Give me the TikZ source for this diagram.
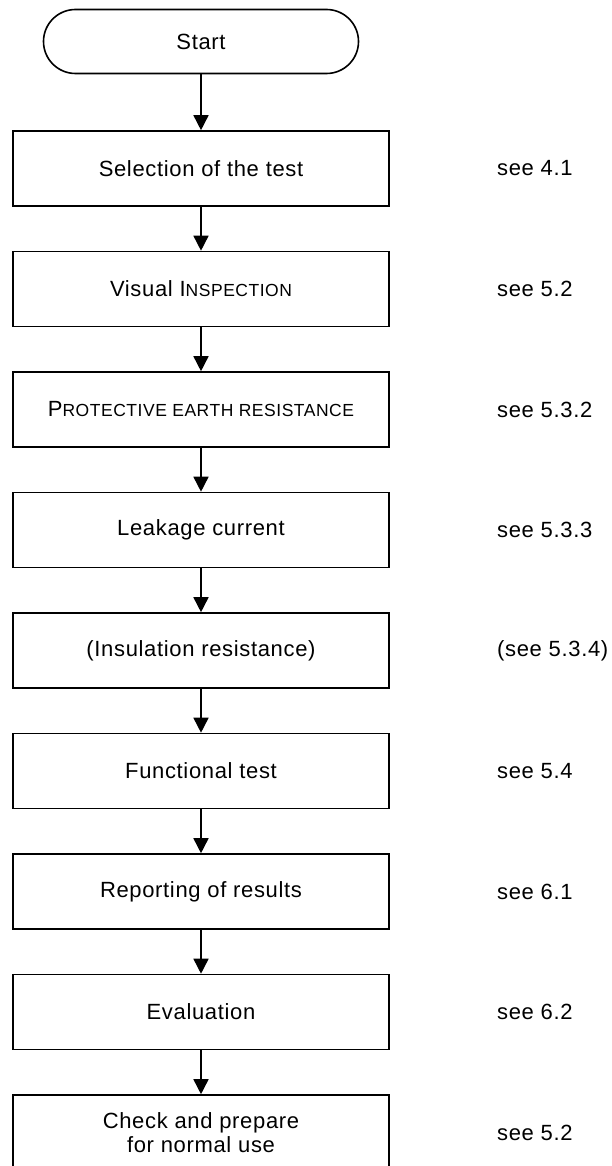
\documentclass[tikz,border=0pt]{standalone}
\usepackage{fontspec}
\setmainfont{Liberation Sans}[LetterSpace=3]
\usetikzlibrary{arrows.meta}

% faked small capitals: upper-case letters at a reduced size
\newcommand{\smcaps}[1]{{\fontsize{17.5}{21}\selectfont #1}}

\tikzset{
  flowline/.style={line width=1.6pt},
  stepbox/.style={draw, flowline, minimum width=376pt, minimum height=75pt,
    inner sep=0pt, align=center, font=\fontsize{22}{24}\selectfont},
  terminal/.style={draw, flowline, rounded corners=32pt, minimum width=315pt,
    minimum height=64pt, inner sep=0pt, font=\fontsize{22}{24}\selectfont},
  reflabel/.style={anchor=west, inner sep=0pt, font=\fontsize{22}{24}\selectfont},
  arrow/.style={flowline, -{Triangle[width=15pt,length=15pt]}}
}

\begin{document}
\begin{tikzpicture}[x=1pt, y=-1pt]
  \useasboundingbox (0,0) rectangle (612,1166);

  % start terminal
  \node[terminal] (start) at (201,41.5) {Start};

  % process steps
  \node[stepbox] (s1) at (201,168.5) {Selection of the test};
  \node[stepbox] (s2) at (201,289)   {Visual I\smcaps{NSPECTION}};
  \node[stepbox] (s3) at (201,409.5) {P\smcaps{ROTECTIVE EARTH RESISTANCE}};
  \node[stepbox] (s4) at (201,530)   {Leakage current};
  \node[stepbox] (s5) at (201,650.5) {(Insulation resistance)};
  \node[stepbox] (s6) at (201,771)   {Functional test};
  \node[stepbox] (s7) at (201,891.5) {Reporting of results};
  \node[stepbox] (s8) at (201,1012)  {Evaluation};
  \node[stepbox] (s9) at (201,1132.5) {Check and prepare\\for normal use};

  % clause references
  \node[reflabel] (r1) at (497,168.5) {see 4.1};
  \node[reflabel] (r2) at (497,289)   {see 5.2};
  \node[reflabel] (r3) at (497,409.5) {see 5.3.2};
  \node[reflabel] (r4) at (497,530)   {see 5.3.3};
  \node[reflabel] (r5) at (497,650.5) {(see 5.3.4)};
  \node[reflabel] (r6) at (497,771)   {see 5.4};
  \node[reflabel] (r7) at (497,891.5) {see 6.1};
  \node[reflabel] (r8) at (497,1012)  {see 6.2};
  \node[reflabel] (r9) at (497,1132.5) {see 5.2};

  % flow
  \draw[arrow] (start) -- (s1);
  \draw[arrow] (s1) -- (s2);
  \draw[arrow] (s2) -- (s3);
  \draw[arrow] (s3) -- (s4);
  \draw[arrow] (s4) -- (s5);
  \draw[arrow] (s5) -- (s6);
  \draw[arrow] (s6) -- (s7);
  \draw[arrow] (s7) -- (s8);
  \draw[arrow] (s8) -- (s9);
\end{tikzpicture}
\end{document}
